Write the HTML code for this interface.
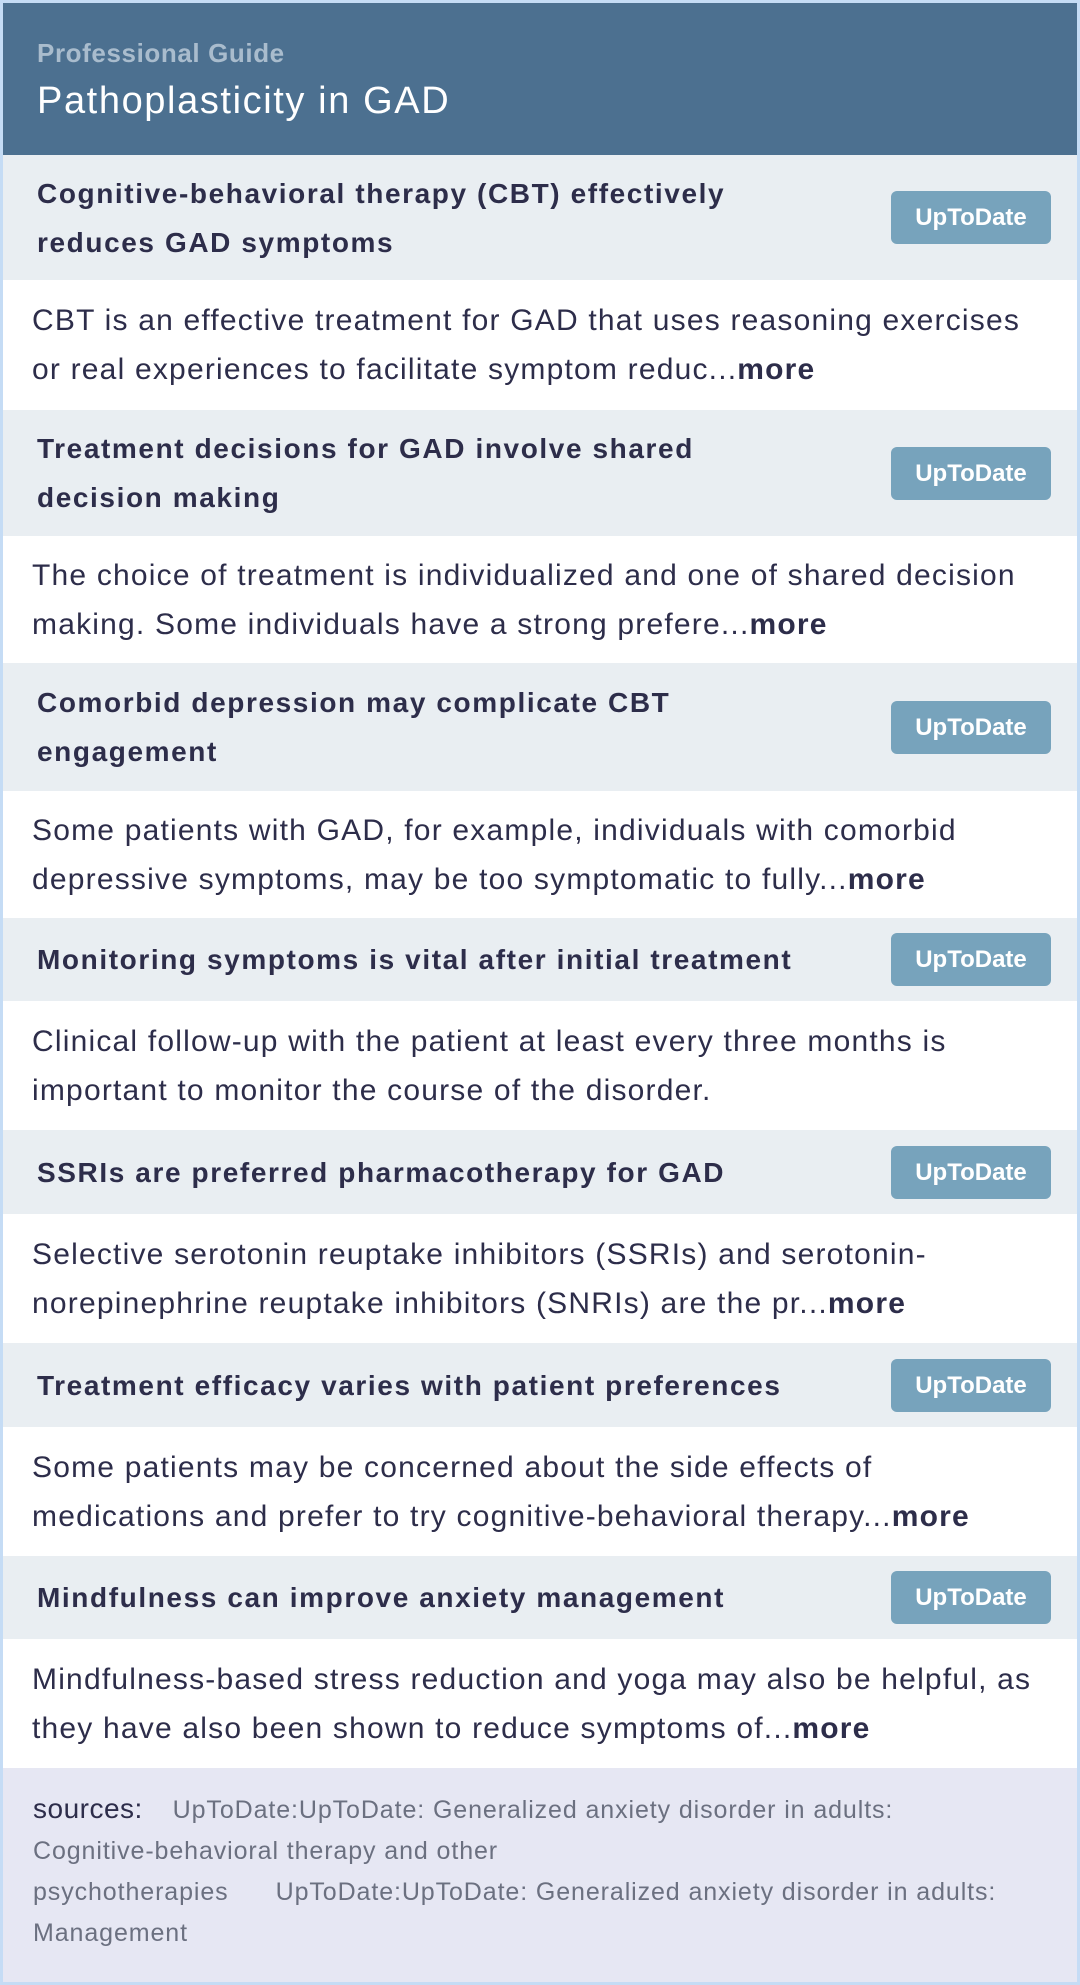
<!DOCTYPE html>
<html><head><meta charset="utf-8"><style>
*{margin:0;padding:0;box-sizing:border-box}
body{width:1080px;height:1985px;background:#c5dcf5;font-family:"Liberation Sans",sans-serif;overflow:hidden}
.wrap{position:absolute;left:3px;top:3px;width:1074px;height:1979px;background:#fff}
.hdr{height:152px;background:#4c7090;padding:35px 0 0 34px}
.pg{color:#a9bccd;font-size:26px;font-weight:bold;line-height:30px;letter-spacing:0.6px}
.tt{color:#fff;font-size:38px;line-height:50px;margin-top:8px;letter-spacing:1.6px}
.h{background:#e9eef2;display:flex;align-items:center;justify-content:space-between;padding:0 26px 0 34px}
.h span{color:#2d2d4a;font-weight:bold;font-size:28px;line-height:49px;white-space:nowrap;letter-spacing:1.6px}
.b{display:inline-block;background:#77a3bc;color:#fff;font-weight:bold;font-size:24px;width:160px;height:53px;line-height:53px;text-align:center;border-radius:6px;flex:none}
.d{color:#2d2d4a;font-size:30px;line-height:49px;padding:0 10px 0 29px;display:flex;align-items:center;white-space:nowrap;letter-spacing:1.2px}
.d b{font-weight:bold}
.s{background:#e6e7f3;height:214px;padding:20px 10px 0 30px;font-size:25px;line-height:41px;color:#6b7080;white-space:nowrap;letter-spacing:0.9px}
.s .l{color:#2d2d4a;font-size:28px;margin-right:22px;letter-spacing:0.5px}
</style></head><body><div class="wrap">
<div class="hdr"><div class="pg">Professional Guide</div><div class="tt">Pathoplasticity in GAD</div></div>
<div class="h" style="height:125px"><span>Cognitive-behavioral therapy (CBT) effectively<br>reduces GAD symptoms</span><div class="b">UpToDate</div></div>
<div class="d" style="height:130px"><div>CBT is an effective treatment for GAD that uses reasoning exercises<br>or real experiences to facilitate symptom reduc...<b>more</b></div></div>
<div class="h" style="height:126px"><span>Treatment decisions for GAD involve shared<br>decision making</span><div class="b">UpToDate</div></div>
<div class="d" style="height:127px"><div>The choice of treatment is individualized and one of shared decision<br>making. Some individuals have a strong prefere...<b>more</b></div></div>
<div class="h" style="height:128px"><span>Comorbid depression may complicate CBT<br>engagement</span><div class="b">UpToDate</div></div>
<div class="d" style="height:127px"><div>Some patients with GAD, for example, individuals with comorbid<br>depressive symptoms, may be too symptomatic to fully...<b>more</b></div></div>
<div class="h" style="height:83px"><span>Monitoring symptoms is vital after initial treatment</span><div class="b">UpToDate</div></div>
<div class="d" style="height:129px"><div>Clinical follow-up with the patient at least every three months is<br>important to monitor the course of the disorder.</div></div>
<div class="h" style="height:84px"><span>SSRIs are preferred pharmacotherapy for GAD</span><div class="b">UpToDate</div></div>
<div class="d" style="height:129px"><div>Selective serotonin reuptake inhibitors (SSRIs) and serotonin-<br>norepinephrine reuptake inhibitors (SNRIs) are the pr...<b>more</b></div></div>
<div class="h" style="height:84px"><span>Treatment efficacy varies with patient preferences</span><div class="b">UpToDate</div></div>
<div class="d" style="height:129px"><div>Some patients may be concerned about the side effects of<br>medications and prefer to try cognitive-behavioral therapy...<b>more</b></div></div>
<div class="h" style="height:83px"><span>Mindfulness can improve anxiety management</span><div class="b">UpToDate</div></div>
<div class="d" style="height:129px"><div>Mindfulness-based stress reduction and yoga may also be helpful, as<br>they have also been shown to reduce symptoms of...<b>more</b></div></div>
<div class="s"><span class="l">sources:</span> UpToDate:UpToDate: Generalized anxiety disorder in adults:<br>Cognitive-behavioral therapy and other<br>psychotherapies &nbsp;&nbsp;&nbsp;&nbsp; UpToDate:UpToDate: Generalized anxiety disorder in adults:<br>Management</div>
</div></body></html>
